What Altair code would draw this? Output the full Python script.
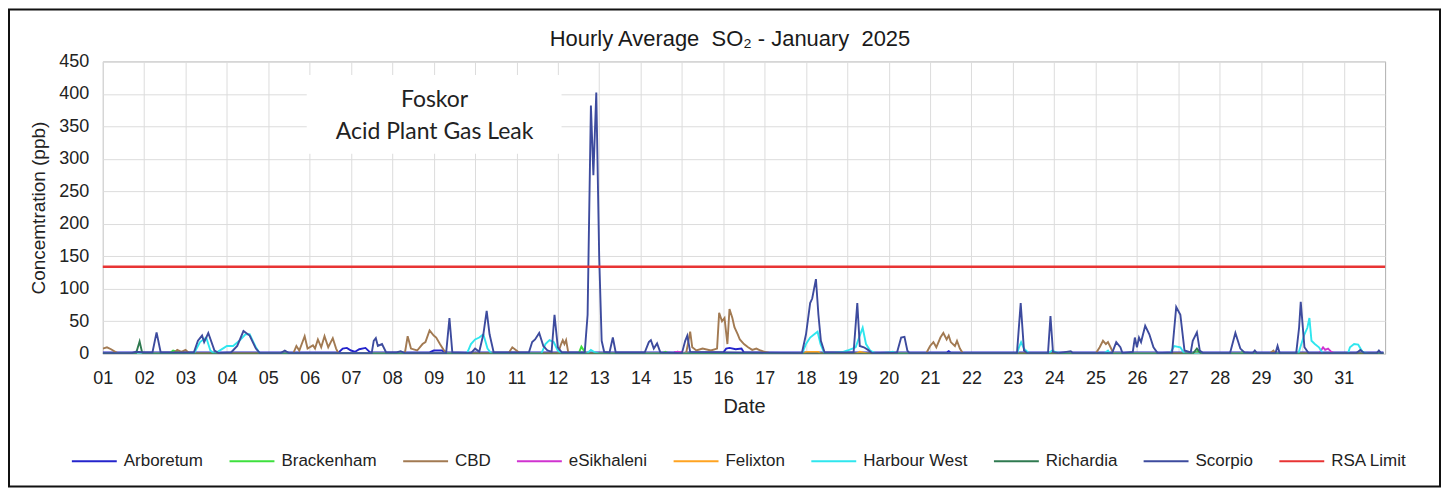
import altair as alt
import pandas as pd

# ---------------- data ----------------
series_names = ["Arboretum", "Brackenham", "CBD", "eSikhaleni", "Felixton",
                "Harbour West", "Richardia", "Scorpio", "RSA Limit"]
series_colors = ["#2424cc", "#3ee03e", "#a27a52", "#d033d0", "#ffa321",
                 "#2fe6ee", "#2f7a50", "#3d4b9e", "#e83434"]

# day (1.0 = start of 1 January) and hourly SO2 (ppb) at vertices of each trace
arboretum_day = [1.0, 6.7, 6.8, 6.9, 7.0, 7.1, 7.2, 7.35, 7.45, 7.5, 8.9, 9.0, 9.2, 9.3,
                 14.8, 14.9, 15.0, 15.1, 16.0, 16.07, 16.15, 16.3, 16.44, 16.5, 21.4, 21.45, 21.5, 31.96]
arboretum_ppb = [2, 2, 8, 9, 5, 3, 7, 9, 3, 2, 2, 5, 5, 2,
                 2, 3, 1, 2, 2, 8, 9, 7, 8, 2, 2, 4, 2, 2]

brackenham_day = [1.0, 1.4, 1.5, 1.6, 2.6, 2.7, 2.8, 2.9, 12.5, 12.57, 12.65, 12.7,
                  14.5, 14.6, 14.7, 27.4, 27.5, 27.6, 28.5, 28.55, 28.6, 31.96]
brackenham_ppb = [0, 0, 1, 0, 0, 5, 3, 0, 0, 11, 3, 0,
                  0, 3, 0, 0, 5, 0, 0, 3, 0, 0]

cbd_day = [1.0, 1.1, 1.2, 1.3, 1.4, 2.7, 2.8, 2.9, 3.0, 3.1,
           5.6, 5.68, 5.75, 5.88, 5.95, 6.08, 6.13, 6.2, 6.28, 6.36, 6.45, 6.56, 6.64, 6.7,
           8.3, 8.37, 8.45, 8.6, 8.73, 8.8, 8.9, 9.0, 9.06, 9.15, 9.25, 9.35,
           10.8, 10.9, 11.0, 11.1, 12.0, 12.08, 12.12, 12.16, 12.2, 12.25, 12.3,
           15.1, 15.2, 15.25, 15.35, 15.5, 15.7, 15.85, 15.9, 15.97, 16.03, 16.1, 16.15,
           16.22, 16.27, 16.35, 16.4, 16.5, 16.6, 16.7, 16.8, 16.9, 17.0, 17.2,
           20.9, 21.0, 21.08, 21.15, 21.25, 21.32, 21.4, 21.45, 21.5, 21.6, 21.65, 21.72, 21.8,
           25.0, 25.1, 25.18, 25.25, 25.3, 25.4, 25.45, 29.2, 29.3, 29.35, 31.96]
cbd_ppb = [8, 10, 7, 3, 0, 0, 6, 3, 6, 0,
           0, 12, 5, 27, 8, 13, 8, 22, 10, 27, 10, 24, 8, 0,
           0, 27, 8, 5, 15, 18, 36, 28, 25, 15, 5, 0,
           0, 10, 5, 0, 0, 15, 21, 15, 21, 3, 0,
           0, 34, 10, 5, 8, 5, 8, 63, 50, 55, 15, 69,
           55, 41, 30, 22, 15, 10, 6, 8, 5, 3, 0,
           0, 12, 18, 10, 25, 32, 22, 28, 18, 12, 20, 8, 0,
           0, 10, 20, 15, 18, 5, 0, 0, 5, 0, 0]

esikhaleni_day = [1.0, 14.8, 14.85, 15.0, 15.05, 30.4, 30.5, 30.55, 30.62, 30.7, 30.8, 31.96]
esikhaleni_ppb = [0, 0, 3, 3, 0, 0, 10, 6, 8, 3, 0, 0]

felixton_day = [1.0, 17.95, 18.0, 18.3, 18.35, 19.2, 19.3, 19.5, 31.96]
felixton_ppb = [0, 0, 3, 3, 0, 0, 3, 0, 0]

harbour_west_day = [1.0, 3.2, 3.35, 3.5, 3.6, 3.7, 3.9, 4.0, 4.15, 4.3, 4.45, 4.55, 4.7, 4.8,
                    9.8, 9.9, 10.0, 10.1, 10.2, 10.3, 10.4, 11.6, 11.7, 11.8, 11.9, 12.0, 12.1,
                    12.7, 12.8, 12.9, 13.0, 17.9, 18.0, 18.1, 18.2, 18.28, 18.35, 18.45,
                    18.9, 19.0, 19.2, 19.3, 19.37, 19.45, 19.55, 19.7, 20.0, 20.1, 20.2,
                    23.1, 23.15, 23.2, 23.27, 23.4, 23.85, 23.95, 24.05, 24.3, 25.2, 25.3, 25.35,
                    26.8, 26.9, 27.05, 27.15, 29.9, 29.95, 30.05, 30.12, 30.17, 30.22, 30.3,
                    30.4, 30.5, 31.1, 31.15, 31.25, 31.35, 31.45, 31.6, 31.96]
harbour_west_ppb = [0, 0, 18, 25, 5, 0, 8, 12, 12, 20, 30, 30, 10, 0,
                    0, 15, 22, 25, 30, 8, 0, 0, 15, 21, 18, 5, 0,
                    0, 6, 2, 0, 0, 15, 25, 30, 34, 15, 0,
                    3, 5, 10, 28, 40, 15, 5, 0, 2, 3, 0,
                    0, 10, 18, 8, 0, 0, 5, 2, 0, 0, 5, 0,
                    0, 12, 10, 0, 0, 10, 30, 40, 55, 20, 15,
                    10, 0, 0, 10, 15, 14, 3, 0, 0]

richardia_day = [1.0, 1.8, 1.89, 1.95, 2.0, 27.35, 27.45, 27.55, 31.96]
richardia_ppb = [0, 0, 19, 2, 0, 0, 8, 0, 0]

scorpio_day = [1.0, 1.7, 1.8, 2.0, 2.2, 2.3, 2.4, 3.2, 3.3, 3.4, 3.45, 3.55, 3.7, 3.8,
               4.1, 4.25, 4.4, 4.55, 4.7, 4.8, 5.3, 5.4, 5.5, 7.5, 7.55, 7.6, 7.65, 7.75, 7.85,
               8.1, 8.2, 8.3, 9.3, 9.38, 9.45, 9.9, 10.0, 10.1, 10.2, 10.28, 10.35, 10.45,
               11.3, 11.38, 11.45, 11.55, 11.65, 11.75, 11.85, 11.92, 12.0, 12.1,
               12.65, 12.72, 12.8, 12.86, 12.93, 13.0, 13.06, 13.12, 13.25, 13.33, 13.4,
               14.1, 14.2, 14.25, 14.32, 14.4, 14.48, 15.0, 15.08, 15.13, 15.2,
               17.9, 18.0, 18.1, 18.15, 18.24, 18.3, 18.36, 18.45,
               19.15, 19.24, 19.3, 19.4, 19.5, 19.6, 20.2, 20.3, 20.38, 20.45, 20.5,
               23.1, 23.19, 23.27, 23.35, 23.85, 23.91, 23.97, 24.1, 24.4, 24.45,
               25.4, 25.5, 25.6, 25.65, 25.9, 25.95, 26.0, 26.05, 26.1, 26.2, 26.3, 26.4, 26.5,
               26.85, 26.95, 27.05, 27.15, 27.3, 27.35, 27.45, 27.52, 27.6,
               28.25, 28.38, 28.5, 28.6, 28.8, 28.85, 28.9, 29.35, 29.4, 29.45,
               29.85, 29.92, 29.96, 30.05, 30.15, 31.3, 31.4, 31.5, 31.8, 31.85, 31.9, 31.96]
scorpio_ppb = [1, 1, 3, 2, 2, 33, 2, 2, 20, 28, 18, 32, 5, 1,
               2, 12, 35, 28, 8, 1, 1, 5, 1, 1, 20, 24, 12, 15, 2,
               2, 4, 1, 1, 55, 2, 1, 8, 3, 30, 66, 30, 2,
               2, 18, 22, 32, 12, 5, 3, 60, 10, 2,
               2, 60, 382, 275, 402, 150, 20, 3, 2, 25, 2,
               2, 18, 21, 8, 16, 2, 1, 20, 28, 3,
               1, 30, 78, 85, 115, 60, 20, 2,
               2, 78, 12, 10, 6, 1, 2, 25, 26, 5, 1,
               1, 78, 5, 1, 1, 58, 3, 1, 4, 1,
               1, 18, 10, 1, 3, 25, 10, 25, 18, 43, 30, 10, 1,
               2, 72, 60, 5, 2, 20, 33, 5, 1,
               1, 32, 8, 2, 1, 5, 1, 1, 12, 1,
               1, 40, 80, 10, 1, 1, 6, 1, 1, 5, 1, 1]

rsa_limit_day = [1, 32]
rsa_limit_ppb = [134, 134]

day_ticks = list(range(1, 32))
day_labels = ["01", "02", "03", "04", "05", "06", "07", "08", "09", "10",
              "11", "12", "13", "14", "15", "16", "17", "18", "19", "20",
              "21", "22", "23", "24", "25", "26", "27", "28", "29", "30", "31"]
ppb_ticks = [0, 50, 100, 150, 200, 250, 300, 350, 400, 450]

annot_lines = ["Foskor", "Acid Plant Gas Leak"]
annot_text_day = [9.02, 9.02]
annot_text_ppb = [390, 341]
annot_box_day = [5.93, 12.09]
annot_box_ppb = [308, 429]

# ---------------- build tables ----------------
traces = [
    ("Arboretum", arboretum_day, arboretum_ppb),
    ("Brackenham", brackenham_day, brackenham_ppb),
    ("CBD", cbd_day, cbd_ppb),
    ("eSikhaleni", esikhaleni_day, esikhaleni_ppb),
    ("Felixton", felixton_day, felixton_ppb),
    ("Harbour West", harbour_west_day, harbour_west_ppb),
    ("Richardia", richardia_day, richardia_ppb),
    ("Scorpio", scorpio_day, scorpio_ppb),
]
rows = []
for k, (name, days, vals) in enumerate(traces):
    for d, v in zip(days, vals):
        rows.append({"series": name, "day": d, "ppb": v, "k": k})
df = pd.DataFrame(rows)
df_rsa = pd.DataFrame({"series": "RSA Limit", "day": rsa_limit_day, "ppb": rsa_limit_ppb})
df_box = pd.DataFrame({"day": [annot_box_day[0]], "d2": [annot_box_day[1]],
                       "ppb": [annot_box_ppb[0]], "p2": [annot_box_ppb[1]]})
df_txt = pd.DataFrame({"t": annot_lines, "day": annot_text_day, "ppb": annot_text_ppb})

W, H = 1285, 293
PL, PT, PR, PB = 95, 53, 56, 134
FONT = "Liberation Sans"

label_expr = "[" + ",".join("'" + s + "'" for s in day_labels) + "][datum.value - 1]"

x_scale = alt.Scale(domain=[1, 32], nice=False, zero=False)
y_scale = alt.Scale(domain=[0, 450], nice=False)
x_axis = alt.Axis(values=day_ticks, labelExpr=label_expr, title="Date",
                  labelFontSize=18, labelPadding=16, titleFontSize=20,
                  titlePadding=9, labelFlush=False, labelOverlap=False)
y_axis = alt.Axis(values=ppb_ticks, title="Concemtration (ppb)",
                  labelFontSize=18, labelPadding=14, titleFontSize=19,
                  titlePadding=10, labelFlush=False, labelOverlap=False)
x_enc = alt.X("day:Q", scale=x_scale, axis=x_axis)
y_enc = alt.Y("ppb:Q", scale=y_scale, axis=y_axis)

color_enc = alt.Color("series:N",
                      scale=alt.Scale(domain=series_names, range=series_colors),
                      legend=alt.Legend(orient="none", legendX=-32, legendY=377,
                                        direction="horizontal", columns=9,
                                        symbolType="stroke", symbolSize=2025,
                                        symbolStrokeWidth=2, labelFontSize=17,
                                        labelFont=FONT, labelColor="#222222",
                                        columnPadding=22, labelOffset=6, title=None,
                                        padding=0, labelLimit=300))

border = alt.Chart(pd.DataFrame({"a": [0]})).mark_rect(
    filled=False, stroke="#111111", strokeWidth=2
).encode(x=alt.value(-PL + 1), x2=alt.value(W + PR - 1),
         y=alt.value(-PT + 1), y2=alt.value(H + PB - 1))

box = alt.Chart(df_box).mark_rect(color="white").encode(
    x=x_enc, x2="d2:Q", y=y_enc, y2="p2:Q")

txt = alt.Chart(df_txt).mark_text(font="Lato", fontSize=23, color="#222222",
                                  baseline="middle", align="center").encode(
    x=x_enc, y=y_enc, text="t:N")

lines = alt.Chart(df).mark_line(strokeWidth=1.9, clip=True, interpolate="linear").encode(
    x=x_enc, y=y_enc, color=color_enc, order="day:Q")

rsa = alt.Chart(df_rsa).mark_line(strokeWidth=2.5).encode(
    x=x_enc, y=y_enc, color=color_enc)

chart = alt.layer(border, box, lines, rsa, txt).properties(
    width=W, height=H,
    autosize=alt.AutoSizeParams(type="none"),
    padding={"left": PL, "top": PT, "right": PR, "bottom": PB},
    title=alt.TitleParams(text="Hourly Average\u00a0 SO\u2082 - January\u00a0 2025",
                          fontSize=22, font=FONT, fontWeight="normal", color="#1a1a1a",
                          anchor="middle", dx=-14, dy=43, offset=0),
).configure(background="white").configure_view(
    stroke="#b0b0b0", strokeWidth=1
).configure_axis(
    grid=True, gridColor="#dcdcdc", gridWidth=1, domain=False, ticks=False,
    labelFont=FONT, titleFont=FONT, labelColor="#222222", titleColor="#222222",
    titleFontWeight="normal"
)

chart.save("out.html", embed_options={"renderer": "svg", "actions": False})
